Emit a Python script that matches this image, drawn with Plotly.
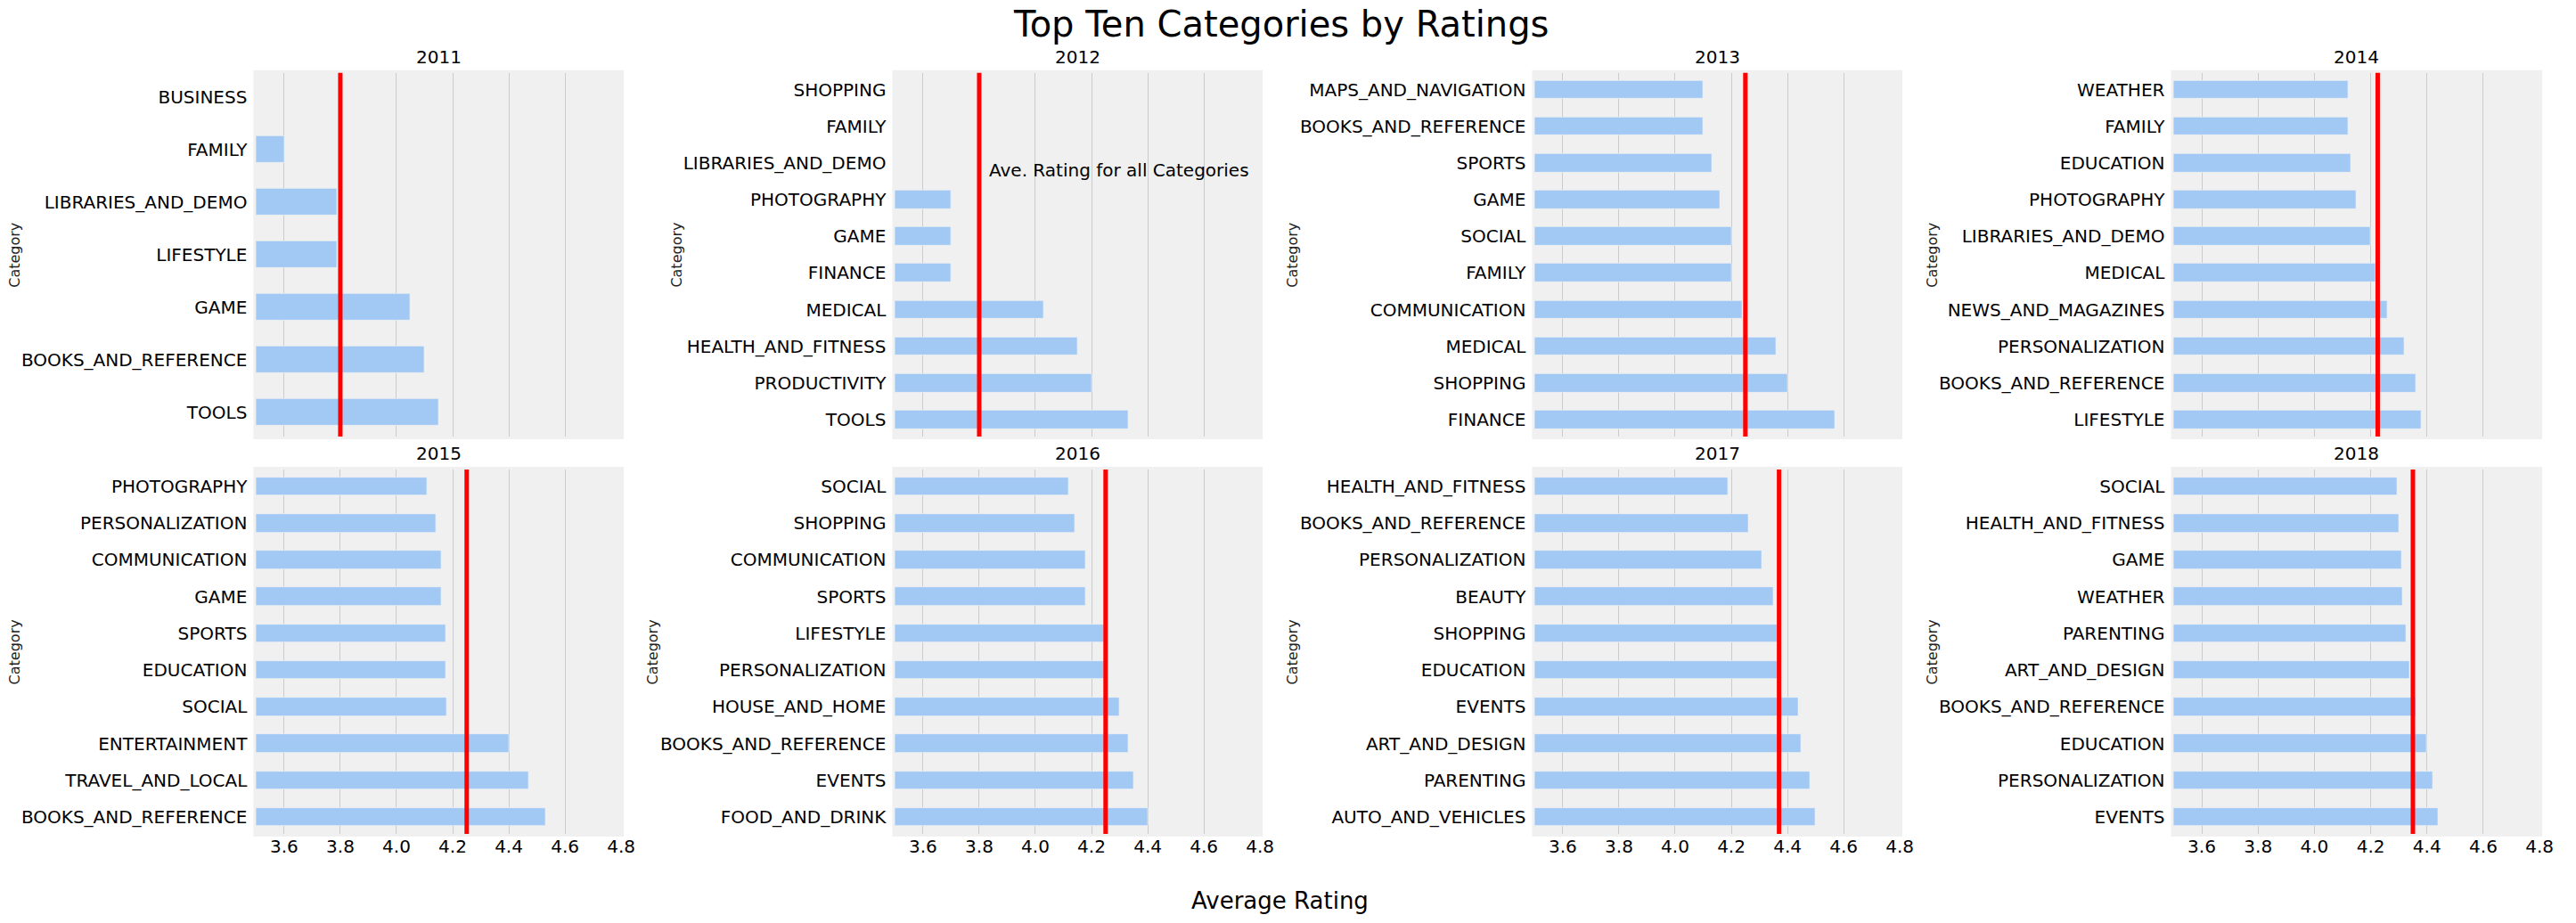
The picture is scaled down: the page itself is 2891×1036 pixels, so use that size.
import plotly.graph_objects as go

W, H = 2891, 1036

years = ["2011", "2012", "2013", "2014", "2015", "2016", "2017", "2018"]

# categories listed bottom -> top, with their average ratings
cat_2011 = ["TOOLS", "BOOKS_AND_REFERENCE", "GAME", "LIFESTYLE", "LIBRARIES_AND_DEMO", "FAMILY", "BUSINESS"]
rating_2011 = [4.15, 4.10, 4.05, 3.79, 3.79, 3.60, 3.40]

cat_2012 = ["TOOLS", "PRODUCTIVITY", "HEALTH_AND_FITNESS", "MEDICAL", "FINANCE", "GAME",
            "PHOTOGRAPHY", "LIBRARIES_AND_DEMO", "FAMILY", "SHOPPING"]
rating_2012 = [4.33, 4.20, 4.15, 4.03, 3.70, 3.70, 3.70, 3.45, 3.40, 3.30]

cat_2013 = ["FINANCE", "SHOPPING", "MEDICAL", "COMMUNICATION", "FAMILY", "SOCIAL", "GAME",
            "SPORTS", "BOOKS_AND_REFERENCE", "MAPS_AND_NAVIGATION"]
rating_2013 = [4.57, 4.40, 4.36, 4.24, 4.20, 4.20, 4.16, 4.13, 4.10, 4.10]

cat_2014 = ["LIFESTYLE", "BOOKS_AND_REFERENCE", "PERSONALIZATION", "NEWS_AND_MAGAZINES", "MEDICAL",
            "LIBRARIES_AND_DEMO", "PHOTOGRAPHY", "EDUCATION", "FAMILY", "WEATHER"]
rating_2014 = [4.38, 4.36, 4.32, 4.26, 4.22, 4.20, 4.15, 4.13, 4.12, 4.12]

cat_2015 = ["BOOKS_AND_REFERENCE", "TRAVEL_AND_LOCAL", "ENTERTAINMENT", "SOCIAL", "EDUCATION",
            "SPORTS", "GAME", "COMMUNICATION", "PERSONALIZATION", "PHOTOGRAPHY"]
rating_2015 = [4.53, 4.47, 4.40, 4.18, 4.175, 4.175, 4.16, 4.16, 4.14, 4.11]

cat_2016 = ["FOOD_AND_DRINK", "EVENTS", "BOOKS_AND_REFERENCE", "HOUSE_AND_HOME", "PERSONALIZATION",
            "LIFESTYLE", "SPORTS", "COMMUNICATION", "SHOPPING", "SOCIAL"]
rating_2016 = [4.40, 4.35, 4.33, 4.30, 4.245, 4.245, 4.18, 4.18, 4.14, 4.12]

cat_2017 = ["AUTO_AND_VEHICLES", "PARENTING", "ART_AND_DESIGN", "EVENTS", "EDUCATION", "SHOPPING",
            "BEAUTY", "PERSONALIZATION", "BOOKS_AND_REFERENCE", "HEALTH_AND_FITNESS"]
rating_2017 = [4.50, 4.48, 4.45, 4.44, 4.365, 4.365, 4.35, 4.31, 4.26, 4.19]

cat_2018 = ["EVENTS", "PERSONALIZATION", "EDUCATION", "BOOKS_AND_REFERENCE", "ART_AND_DESIGN",
            "PARENTING", "WEATHER", "GAME", "HEALTH_AND_FITNESS", "SOCIAL"]
rating_2018 = [4.44, 4.42, 4.40, 4.36, 4.34, 4.325, 4.315, 4.31, 4.30, 4.295]

avg_rating = [3.80, 3.80, 4.25, 4.225, 4.25, 4.25, 4.37, 4.35]

x_ticks = [3.6, 3.8, 4.0, 4.2, 4.4, 4.6, 4.8]

categories = [cat_2011, cat_2012, cat_2013, cat_2014, cat_2015, cat_2016, cat_2017, cat_2018]
ratings = [rating_2011, rating_2012, rating_2013, rating_2014, rating_2015, rating_2016, rating_2017, rating_2018]

# ---- layout geometry (pixels) ----
col_px = [(289, 701), (1010, 1422), (1732, 2144), (2453, 2866)]
row_px = [(81.7, 490), (527, 936)]
ylabel_offset = [272, 246, 273, 272, 272, 273, 273, 272]

FONT = "DejaVu Sans"
BAR = "#a1c9f4"
BG = "#f0f0f0"

fig = go.Figure()
layout = dict(
    width=W, height=H,
    margin=dict(l=0, r=0, t=0, b=0),
    paper_bgcolor="white",
    plot_bgcolor=BG,
    showlegend=False,
    font=dict(family=FONT, color="black"),
    bargap=0,
)
annotations = []
shapes = []

for i in range(8):
    r, c = divmod(i, 4)
    n = i + 1
    xa = "x" if n == 1 else f"x{n}"
    ya = "y" if n == 1 else f"y{n}"
    x0p, x1p = col_px[c]
    y0p, y1p = row_px[r]
    xdom = [x0p / W, x1p / W]
    ydom = [1 - y1p / H, 1 - y0p / H]
    wpx = x1p - x0p
    hpx = y1p - y0p

    fig.add_trace(go.Bar(
        x=ratings[i], y=categories[i], orientation="h",
        marker=dict(color=BAR, line=dict(color=BG, width=0.7)),
        width=0.5, xaxis=xa, yaxis=ya, hoverinfo="x+y",
    ))

    ncat = len(categories[i])
    layout["xaxis" if n == 1 else f"xaxis{n}"] = dict(
        domain=xdom, anchor=ya, range=[3.5, 4.8],
        tickvals=x_ticks, ticktext=[f"{v:.1f}" for v in x_ticks],
        showgrid=True, gridcolor="#cbcbcb", gridwidth=1.3,
        zeroline=False, showline=False,
        ticks="",
        showticklabels=(r == 1), tickfont=dict(size=20, family=FONT, color="black"),
        fixedrange=True,
    )
    layout["yaxis" if n == 1 else f"yaxis{n}"] = dict(
        domain=ydom, anchor=xa, type="category",
        categoryorder="array", categoryarray=categories[i],
        range=[-0.46, ncat - 1 + 0.46],
        showgrid=False, zeroline=False, showline=False,
        ticks="outside", ticklen=5, tickcolor="rgba(0,0,0,0)",
        tickfont=dict(size=20, family=FONT, color="black"),
        fixedrange=True,
    )

    # slightly larger background patch (axes frame in bg colour)
    shapes.append(dict(
        type="rect", xref=f"{xa} domain", yref=f"{ya} domain",
        x0=-3 / wpx, x1=1 + 3 / wpx, y0=-3 / hpx, y1=1 + 3 / hpx,
        fillcolor=BG, line=dict(width=0), layer="below",
    ))
    # average rating line
    shapes.append(dict(
        type="line", xref=xa, yref=f"{ya} domain",
        x0=avg_rating[i], x1=avg_rating[i], y0=0, y1=1,
        line=dict(color="red", width=5), layer="above",
    ))

    # subplot title
    annotations.append(dict(
        text=years[i], xref=f"{xa} domain", yref=f"{ya} domain",
        x=0.5, y=1, xanchor="center", yanchor="middle", yshift=18,
        showarrow=False, font=dict(size=20, family=FONT, color="black"),
    ))
    # y-axis label
    annotations.append(dict(
        text="Category", xref="paper", yref=f"{ya} domain",
        x=(x0p - ylabel_offset[i]) / W, y=0.5, xanchor="center", yanchor="middle",
        textangle=-90, showarrow=False, font=dict(size=16, family=FONT, color="#222"),
    ))

# annotation for the average line (2012 panel)
annotations.append(dict(
    text="Ave. Rating for all Categories", xref="x2", yref="y2",
    x=3.83, y=6.81, xanchor="left", yanchor="middle", showarrow=False,
    font=dict(size=20, family=FONT, color="black"),
))
# main title
annotations.append(dict(
    text="Top Ten Categories by Ratings", xref="paper", yref="paper",
    x=0.5, y=1 - 27 / H, xanchor="center", yanchor="middle", showarrow=False,
    font=dict(size=40, family=FONT, color="black"),
))
# shared x label
annotations.append(dict(
    text="Average Rating", xref="paper", yref="paper",
    x=1444 / W, y=1 - 1011 / H, xanchor="center", yanchor="middle", showarrow=False,
    font=dict(size=26, family=FONT, color="black"),
))

layout["annotations"] = annotations
layout["shapes"] = shapes
fig.update_layout(**layout)

fig.write_html("out.html")
